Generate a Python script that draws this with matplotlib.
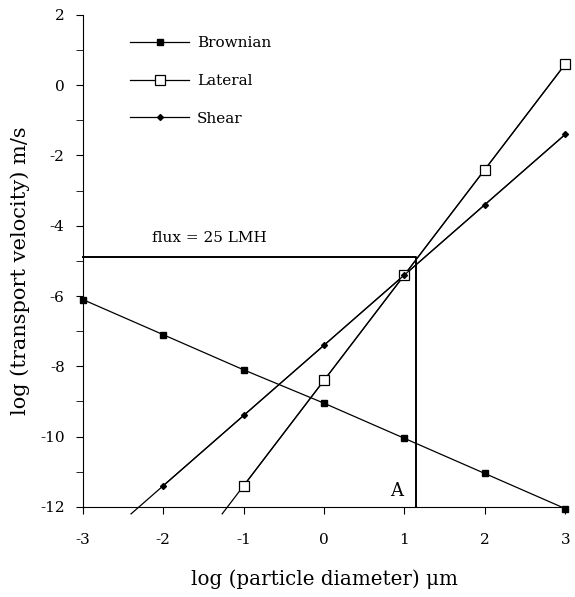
import numpy as np
import matplotlib.pyplot as plt
from matplotlib.ticker import MultipleLocator

# values
diam = [-3, -2, -1, 0, 1, 2, 3]
brownian = [-6.1, -7.1, -8.1, -9.05, -10.05, -11.05, -12.05]
lat_x = [-1, 0, 1, 2, 3]
lateral = [-11.4, -8.4, -5.4, -2.4, 0.6]
shear_x = [-2, -1, 0, 1, 2, 3]
shear = [-11.4, -9.4, -7.4, -5.4, -3.4, -1.4]
flux_y = -4.9      # 25 LMH
flux_x = 1.15      # point A
y_floor = -12.2    # lines run slightly past the axis


def extend_down(x, y, y_end):
    # extrapolate first segment down to y_end
    slope = (y[1] - y[0]) / (x[1] - x[0])
    x0 = x[0] + (y_end - y[0]) / slope
    return [x0] + list(x), [y_end] + list(y)


plt.rcParams['font.family'] = ['DejaVu Serif']
plt.rcParams['axes.unicode_minus'] = False
fig = plt.figure(figsize=(5.75, 5.97), dpi=100)
ax = fig.add_axes([0.144, 0.151, 0.839, 0.824])

lw = 0.9
ax.plot(diam, brownian, color='black', lw=lw, marker='s', ms=5,
        mfc='black', mec='black', clip_on=False, label='Brownian', zorder=3)
lx, ly = extend_down(lat_x, lateral, y_floor)
ax.plot(lx, ly, color='black', lw=lw, clip_on=False, zorder=2)
ax.plot(lat_x, lateral, color='black', lw=lw, marker='s', ms=6.5,
        mfc='white', mec='black', mew=0.9, clip_on=False, label='Lateral', zorder=3)
sx, sy = extend_down(shear_x, shear, y_floor)
ax.plot(sx, sy, color='black', lw=lw, clip_on=False, zorder=2)
ax.plot(shear_x, shear, color='black', lw=lw, marker='D', ms=3,
        mfc='black', mec='black', clip_on=False, label='Shear', zorder=3)

# flux line and point A
ax.plot([-3, flux_x, flux_x], [flux_y, flux_y, -12], color='black', lw=1.4,
        clip_on=False, zorder=1)
ax.text(-1.43, flux_y + 0.55, 'flux = 25 LMH', fontsize=11, ha='center', va='center')
ax.text(0.9, -11.55, 'A', fontsize=13, ha='center', va='center')

ax.set_xlim(-3, 3)
ax.set_ylim(-12, 2)
ax.spines['top'].set_visible(False)
ax.spines['right'].set_visible(False)
ax.xaxis.set_major_locator(MultipleLocator(1))
ax.yaxis.set_major_locator(MultipleLocator(2))
ax.yaxis.set_minor_locator(MultipleLocator(1))
ax.tick_params(axis='x', direction='out', length=5, pad=14, labelsize=11)
ax.tick_params(axis='y', which='major', direction='out', length=5, pad=8, labelsize=11)
ax.tick_params(axis='y', which='minor', direction='out', length=5)

ax.set_xlabel('log (particle diameter) μm', fontsize=14.3, labelpad=16)
ax.set_ylabel('log (transport velocity) m/s', fontsize=15)
ax.yaxis.set_label_coords(-0.11, 0.48)

ax.legend(loc='upper left', bbox_to_anchor=(0.069, 0.985), frameon=False,
          fontsize=11, handlelength=3.9, labelspacing=1.56, handletextpad=0.5)

fig.savefig('out.png', dpi=100)
